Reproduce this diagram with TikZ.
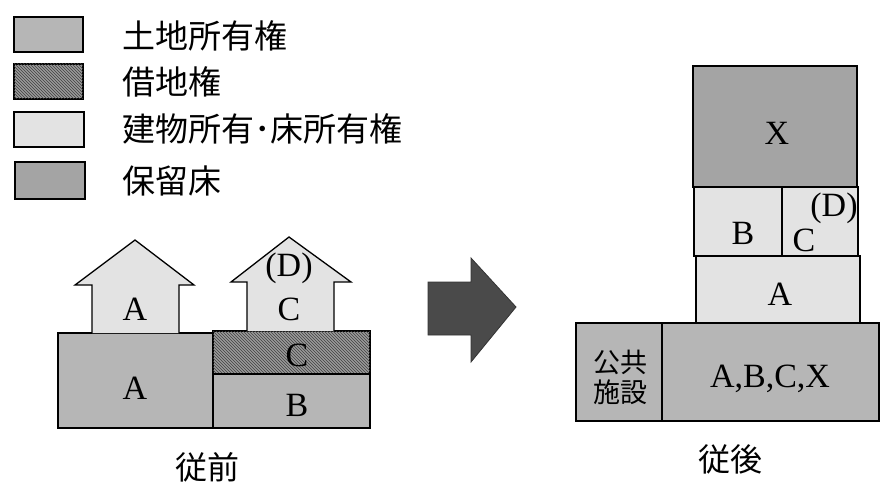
\documentclass[tikz,border=0pt]{standalone}
\usepackage{fontspec}
\setmainfont{Liberation Serif}
\newfontfamily\jpfont{Noto Sans CJK JP}
\usetikzlibrary{patterns}
\definecolor{landc}{HTML}{B6B6B6}
\definecolor{leasec}{HTML}{9A9A9A}
\definecolor{bldgc}{HTML}{E3E3E3}
\definecolor{resvc}{HTML}{A4A4A4}
\definecolor{arrowc}{HTML}{4A4A4A}
\begin{document}
\begin{tikzpicture}[x=1pt,y=-1pt,
  edge/.style={draw=black,line width=1.3pt},
  landbox/.style={edge,fill=landc},
  leasebox/.style={edge,fill=leasec,postaction={pattern=north west lines,pattern color=black!75}},
  bldgbox/.style={edge,fill=bldgc},
  resvbox/.style={edge,fill=resvc},
  lbl/.style={font=\fontsize{34}{34}\selectfont,inner sep=0pt},
  jp/.style={font=\jpfont\fontsize{33}{35}\selectfont,inner sep=0pt,anchor=west},
  jpc/.style={font=\jpfont\fontsize{32}{34}\selectfont,inner sep=0pt},
  jps/.style={font=\jpfont\fontsize{27}{30}\selectfont,inner sep=0pt,align=center}]
\useasboundingbox (0,0) rectangle (880,484);
% legend
\draw[landbox] (14,17) rectangle (83,52);
\draw[leasebox] (14,64) rectangle (83,99);
\draw[bldgbox] (14,112) rectangle (84,147);
\draw[resvbox] (15,162) rectangle (85,199);
\node[jp] (l1) at (122,36) {土地所有権};
\node[jp] (l2) at (122,82) {借地権};
\node[jp] (l3) at (122,129) {建物所有･床所有権};
\node[jp] (l4) at (122,181) {保留床};
% before
\draw[landbox] (58,333) rectangle (213,428);
\draw[leasebox] (213,331) rectangle (370,374);
\draw[landbox] (213,374) rectangle (370,428);
\draw[bldgbox] (92,333) -- (92,285) -- (75,285) -- (135,240) -- (194,285) -- (179,285) -- (179,333);
\draw[bldgbox] (247,331) -- (247,282) -- (231,282) -- (289,237) -- (351,282) -- (334,282) -- (334,331);
\node[lbl] (ha) at (135,309) {A};
\node[lbl] (hd) at (289,268) {(D)};
\node[lbl] (hc) at (289,309) {C};
\node[lbl] (ga) at (135,388) {A};
\node[lbl] (gc) at (297,355) {C};
\node[lbl] (gb) at (297,405) {B};
\node[jpc] (before) at (207,467) {従前};
% arrow
\draw[fill=arrowc,draw=black!80,line width=0.8pt] (428,282) -- (471,282) -- (471,258) -- (516,307) -- (471,362) -- (471,335) -- (428,335) -- cycle;
% after
\draw[resvbox] (693,66) rectangle (857,187);
\draw[bldgbox] (694,187) rectangle (782,256);
\draw[bldgbox] (782,187) rectangle (858,256);
\draw[bldgbox] (696,256) rectangle (860,323);
\draw[landbox] (576,323) rectangle (662,421);
\draw[landbox] (662,323) rectangle (879,421);
\node[lbl] (x) at (777,133) {X};
\node[lbl] (b2) at (743,233) {B};
\node[lbl] (c2) at (804,240) {C};
\node[lbl] (d2) at (834,208) {(D)};
\node[lbl] (a2) at (780,294) {A};
\node[jps] (pub) at (620,377) {公共\\施設};
\node[lbl] (abcx) at (770,379) {A,B,C,X};
\node[jpc] (after) at (730,459) {従後};
\end{tikzpicture}
\end{document}
